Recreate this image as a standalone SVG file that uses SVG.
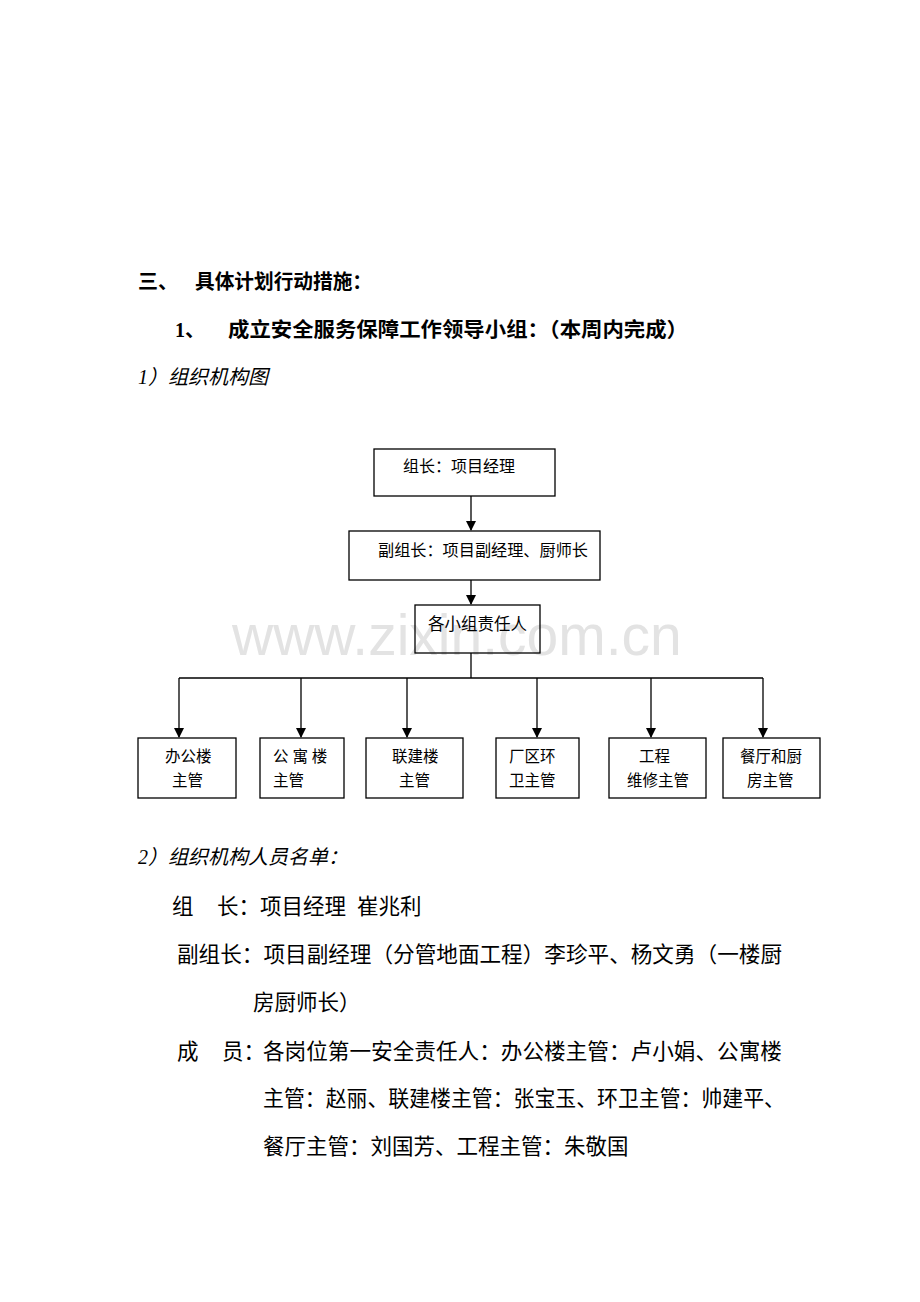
<svg xmlns="http://www.w3.org/2000/svg" width="920" height="1302" viewBox="0 0 920 1302">
<defs>
<style>
.t{font-family:"Liberation Serif","Noto Sans CJK SC",serif;fill:#000}
.h{font-size:20px;font-weight:bold}
.i{font-size:20px;font-style:italic}
.b{font-size:21.5px}
.n{font-size:15.5px}
.m{font-size:16px}
.box{fill:none;stroke:#000;stroke-width:1.3}
.ln{fill:none;stroke:#000;stroke-width:1.3}
.wm{font-family:"Liberation Sans",Arial,sans-serif;font-size:57px;fill:#e3e3e3}
</style>
<marker id="ad" markerWidth="10" markerHeight="10" refX="9" refY="5" orient="auto" markerUnits="userSpaceOnUse" viewBox="0 0 10 10">
<path d="M0,0 L10,5 L0,10 Z" fill="#000"/>
</marker>
</defs>
<rect width="920" height="1302" fill="#fff"/>
<text class="wm" x="232" y="655">www.zixin.com.cn</text>
<g id="headings">
<text class="t h" x="138" y="289">三、</text>
<text class="t h" x="195" y="289" textLength="177" lengthAdjust="spacingAndGlyphs">具体计划行动措施：</text>
<text class="t h" x="175" y="337">1、</text>
<text class="t h" x="228" y="337" textLength="460" lengthAdjust="spacingAndGlyphs">成立安全服务保障工作领导小组：（本周内完成）</text>
<text class="t i" x="138" y="384">1）组织机构图</text>
</g>
<g id="connectors">
<line class="ln" x1="471" y1="496" x2="471" y2="530" marker-end="url(#ad)"/>
<line class="ln" x1="471" y1="580" x2="471" y2="604" marker-end="url(#ad)"/>
<line class="ln" x1="471" y1="653" x2="471" y2="678"/>
<line class="ln" x1="179" y1="678" x2="763" y2="678"/>
<line class="ln" x1="179" y1="678" x2="179" y2="737" marker-end="url(#ad)"/>
<line class="ln" x1="301" y1="678" x2="301" y2="737" marker-end="url(#ad)"/>
<line class="ln" x1="407" y1="678" x2="407" y2="737" marker-end="url(#ad)"/>
<line class="ln" x1="537" y1="678" x2="537" y2="737" marker-end="url(#ad)"/>
<line class="ln" x1="651" y1="678" x2="651" y2="737" marker-end="url(#ad)"/>
<line class="ln" x1="763" y1="678" x2="763" y2="737" marker-end="url(#ad)"/>
</g>
<g id="n-leader">
<rect class="box" x="374" y="449" width="181" height="47"/>
<text class="t m" x="403" y="472">组长：项目经理</text>
</g>
<g id="n-deputy">
<rect class="box" x="349" y="531" width="251" height="49"/>
<text class="t m" x="378" y="556" textLength="210" lengthAdjust="spacingAndGlyphs">副组长：项目副经理、厨师长</text>
</g>
<g id="n-groups">
<rect class="box" x="415" y="605" width="125" height="48"/>
<text class="t" x="428" y="630" font-size="16.5">各小组责任人</text>
</g>
<g id="n-office">
<rect class="box" x="138" y="738" width="98" height="60"/>
<text class="t n" x="165" y="762">办公楼</text>
<text class="t n" x="172" y="786">主管</text>
</g>
<g id="n-apartment">
<rect class="box" x="260" y="738" width="84" height="60"/>
<text class="t n" x="273" y="762">公 寓 楼</text>
<text class="t n" x="273" y="786">主管</text>
</g>
<g id="n-joint">
<rect class="box" x="366" y="738" width="97" height="60"/>
<text class="t n" x="392" y="762">联建楼</text>
<text class="t n" x="399" y="786">主管</text>
</g>
<g id="n-sanitation">
<rect class="box" x="496" y="738" width="83" height="60"/>
<text class="t n" x="509" y="762">厂区环</text>
<text class="t n" x="509" y="786">卫主管</text>
</g>
<g id="n-maintenance">
<rect class="box" x="609" y="738" width="97" height="60"/>
<text class="t n" x="639" y="762">工程</text>
<text class="t n" x="627" y="786">维修主管</text>
</g>
<g id="n-kitchen">
<rect class="box" x="723" y="738" width="97" height="60"/>
<text class="t n" x="740" y="762">餐厅和厨</text>
<text class="t n" x="747" y="786">房主管</text>
</g>
<g id="list">
<text class="t i" x="138" y="864">2）组织机构人员名单：</text>
<text class="t b" x="172" y="914">组</text>
<text class="t b" x="217" y="914">长：项目经理</text>
<text class="t b" x="357" y="914">崔兆利</text>
<text class="t b" x="177" y="962" textLength="605" lengthAdjust="spacingAndGlyphs">副组长：项目副经理（分管地面工程）李珍平、杨文勇（一楼厨</text>
<text class="t b" x="253" y="1010">房厨师长）</text>
<text class="t b" x="177" y="1059">成</text>
<text class="t b" x="222" y="1059">员：</text>
<text class="t b" x="263" y="1059" textLength="519" lengthAdjust="spacingAndGlyphs">各岗位第一安全责任人：办公楼主管：卢小娟、公寓楼</text>
<text class="t b" x="263" y="1106" textLength="522" lengthAdjust="spacingAndGlyphs">主管：赵丽、联建楼主管：张宝玉、环卫主管：帅建平、</text>
<text class="t b" x="263" y="1154">餐厅主管：刘国芳、工程主管：朱敬国</text>
</g>
</svg>
